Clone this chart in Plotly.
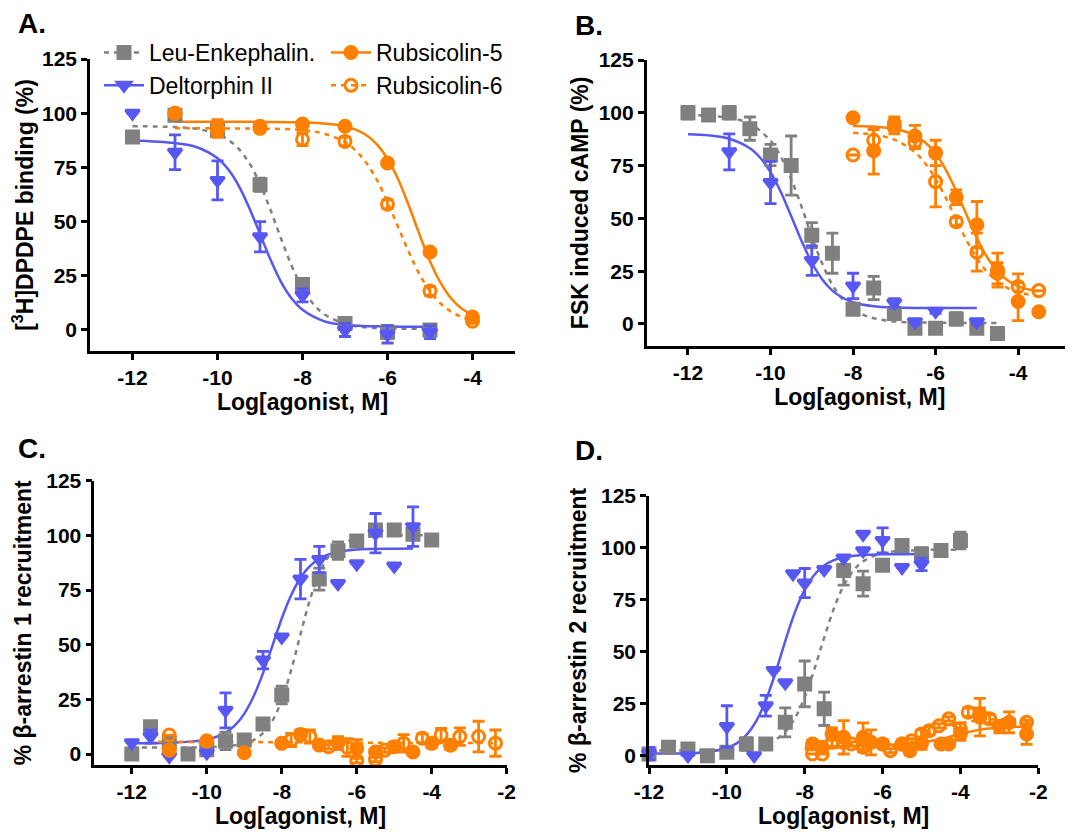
import plotly.graph_objects as go

W, H = 1073, 832          # browser window
OFF = 8                   # default page margin of the browser body
FIG_W, FIG_H = W - OFF, H - OFF
GRAY = "#808080"
BLUE = "#5757F2"
ORANGE = "#FF8000"
FONT = "Liberation Sans, Arial, sans-serif"

# ---------------- Panel A : [3H]DPDPE binding ----------------
A_leu_x = [-12, -11, -10, -9, -8, -7, -6, -5]
A_leu_y = [89, 99, 92, 67, 21, 3, -1, 0]
A_leu_e = [2, 1, 2, 3, 2, 2, 3, 2]
A_del_x = [-12, -11, -10, -9, -8, -7, -6, -5]
A_del_y = [100, 82, 69, 43, 16, 0, -2, -1]
A_del_e = [None, 8, 9, 7, 3, 3, 4, 3]
A_r5_x = [-11, -10, -9, -8, -7, -6, -5, -4]
A_r5_y = [100, 93, 94, 95, 94, 77, 36, 6]
A_r5_e = [1, 4, 1, 1, 1, 1, 1, 1]
A_r6_x = [-11, -10, -9, -8, -7, -6, -5, -4]
A_r6_y = [100, 92, 93, 88, 87, 58, 18, 4]
A_r6_e = [1, 3, 1, 3, 2, 2, 2, 1]

A_fit_leu_x = [-12, -11, -10.5, -10, -9.75, -9.5, -9.25, -9, -8.75, -8.5, -8.25, -8, -7.75, -7.5, -7, -6.5, -6, -5]
A_fit_leu_y = [94.0, 93.6, 92.8, 90.4, 87.8, 83.5, 76.9, 67.4, 55.2, 41.9, 29.4, 19.3, 12.1, 7.4, 2.8, 1.2, 0.7, 0.5]
A_fit_del_x = [-12, -11, -10.5, -10, -9.75, -9.5, -9.25, -9, -8.75, -8.5, -8.25, -8, -7.5, -7, -6, -5]
A_fit_del_y = [87.4, 86.2, 84.4, 79.2, 74.1, 66.5, 56.2, 44.3, 32.3, 22.0, 14.4, 9.3, 4.1, 2.3, 1.6, 1.5]
A_fit_r5_x = [-11, -10, -9, -8, -7.5, -7, -6.75, -6.5, -6.25, -6, -5.75, -5.5, -5.25, -5, -4.75, -4.5, -4.25, -4]
A_fit_r5_y = [96, 96, 96, 95.8, 95.2, 94, 92.4, 89.9, 85.6, 79, 69.5, 57.4, 44.2, 31.7, 21.7, 14.5, 9.8, 7]
A_fit_r6_x = [-11, -10, -9, -8, -7.5, -7, -6.75, -6.5, -6.25, -6, -5.75, -5.5, -5.25, -5, -4.75, -4.5, -4.25, -4]
A_fit_r6_y = [93, 93, 92.9, 92.2, 90.6, 86.7, 82.8, 77.1, 69.2, 59, 47.5, 36, 25.8, 17.9, 12.2, 8.4, 5.9, 4.4]

# ---------------- Panel B : FSK induced cAMP ----------------
B_leu_x = [-12, -11.5, -11, -10.5, -10, -9.5, -9, -8.5, -8, -7.5, -7, -6.5, -6, -5.5, -5, -4.5]
B_leu_y = [100, 99, 100, 92.5, 80, 75, 42, 33.5, 7, 17, 5, -2, -2, 2.4, -2, -4.5]
B_leu_e = [3, 1, 3, 5.5, 5, 14, 6, 9.5, 2, 5.5, 2, 1, 1, 3, 1, 1]
B_del_x = [-11, -10, -9, -8, -7, -6.5, -6, -5]
B_del_y = [81.5, 67, 30, 18, 10, 1, 6, 1]
B_del_e = [8.5, 10, 7, 6, 2, 1, 1, 1]
B_r5_x = [-8, -7.5, -7, -6.5, -6, -5.5, -5, -4.5, -4, -3.5]
B_r5_y = [97.6, 82, 95, 89, 81, 60, 47, 25.5, 10.6, 5.8]
B_r5_e = [None, 11, 3, 5, 6, 3.5, 11, 8, 9, None]
B_r6_x = [-8, -7.5, -7, -6.5, -6, -5.5, -5, -4.5, -4, -3.5]
B_r6_y = [80, 87, 93, 86, 67.4, 48.4, 34, 24, 17.7, 15.8]
B_r6_e = [None, 5, 3, 3, 12, 2, 9, 5, 6, None]

B_fit_leu_x = [-12, -11.5, -11, -10.5, -10, -9.75, -9.5, -9.25, -9, -8.75, -8.5, -8.25, -8, -7.75, -7.5, -7, -6, -5, -4.5]
B_fit_leu_y = [98.9, 98.6, 97.6, 94.8, 86.8, 79.2, 68.6, 55.7, 41.3, 28.7, 18.5, 11.6, 7.0, 4.3, 2.7, 1.2, 0.6, 0.5, 0.5]
B_fit_del_x = [-12, -11.5, -11, -10.5, -10.25, -10, -9.75, -9.5, -9.25, -9, -8.75, -8.5, -8.25, -8, -7.5, -7, -6, -5]
B_fit_del_y = [89.8, 89.3, 87.7, 83.2, 78.7, 71.9, 62.5, 51.1, 39.4, 29.1, 21.2, 15.8, 12.4, 10.3, 8.4, 7.8, 7.55, 7.5]
B_fit_r5_x = [-8, -7.5, -7, -6.5, -6.25, -6, -5.75, -5.5, -5.25, -5, -4.75, -4.5, -4.25, -4, -3.5]
B_fit_r5_y = [93.8, 93.5, 92.4, 89.3, 85.9, 80.7, 73, 63, 51.7, 40.7, 31.6, 24.9, 20.6, 17.8, 15.3]
B_fit_r6_x = [-8, -7.5, -7, -6.5, -6.25, -6, -5.75, -5.5, -5.25, -5, -4.75, -4.5, -4.25, -4, -3.5]
B_fit_r6_y = [90.5, 89.6, 87.3, 81.3, 76, 68.7, 59.6, 49.5, 39.6, 31.1, 24.6, 20, 17, 15.1, 13.1]

# ---------------- Panel C : beta-arrestin 1 ----------------
C_leu_x = [-12, -11.5, -11, -10.5, -10, -9.5, -9, -8.5, -8, -7, -6.5, -6, -5.5, -5, -4.5, -4]
C_leu_y = [0, 12.5, 5, 0, 2, 6, 6.4, 13.8, 27, 80, 93, 97.4, 102.4, 102.4, 100.5, 97.9]
C_leu_e = [1, 1, 2, 1, 2, 4, 1, 1, 4, 5, 4, 1, 1, 1, 2, 1]
C_del_x = [-12, -11.5, -11, -10, -9.5, -8.5, -8, -7.5, -7, -6.5, -6, -5.5, -5, -4.5]
C_del_y = [5.2, 8, -1, 0.6, 20, 43, 53.5, 80, 89, 78, 87, 101, 86, 104]
C_del_e = [None, 3, None, None, 8, 4, None, 9, 6, None, None, 9, None, 9]
C_r5_x = [-11, -10, -9, -8, -7.5, -7, -6.5, -6, -5.5, -5, -4.5, -4, -3.5]
C_r5_y = [1.8, 6, 0.6, 4.9, 9, 4.1, 5, 2.6, 1, 3.4, 1, 4.9, 4]
C_r5_e = [None, None, None, 1, 2, 1, 3, 4, 1, 2, 1, 2, 2]
C_r6_x = [-11, -10, -7.75, -7.25, -6.75, -6.25, -6, -5.5, -5.25, -4.75, -4.25, -3.75, -3.25, -2.75, -2.3]
C_r6_y = [8.7, 6, 6.4, 8, 3.4, 3, -3, -2.5, 1.8, 4.9, 7.2, 8.7, 8, 8, 5]
C_r6_e = [None, None, 3, 3, 1, 4, 1, 1, 1, 4, 2, 3, 4, 7, 6]

C_fit_leu_x = [-12, -11, -10, -9, -8.75, -8.5, -8.25, -8, -7.75, -7.5, -7.25, -7, -6.75, -6.5, -6, -5, -4]
C_fit_leu_y = [3, 3, 3.1, 4.7, 6.4, 9.6, 15.2, 24.7, 38.4, 54.8, 70.5, 82.6, 90.4, 94.9, 98.7, 99.9, 100]
C_fit_del_x = [-12, -11, -10, -9.5, -9.25, -9, -8.75, -8.5, -8.25, -8, -7.75, -7.5, -7.25, -7, -6.75, -6.5, -6, -5, -4.5]
C_fit_del_y = [5, 5.2, 6.6, 9.7, 13.1, 18.4, 26.4, 37, 49.5, 62, 72.6, 80.6, 85.9, 89.3, 91.3, 92.4, 93.5, 93.9, 94]
C_fit_r6_x = [-11.3, -9, -7, -5, -2.3]
C_fit_r6_y = [5.6, 5.5, 5.3, 5.1, 5.0]

# ---------------- Panel D : beta-arrestin 2 ----------------
D_leu_x = [-12, -11.5, -11, -10.5, -10, -9.5, -9, -8.5, -8, -7.5, -7, -6.5, -6, -5.5, -5, -4.5, -4]
D_leu_y = [0.8, 4, 3.2, 0, 1.6, 5.6, 5.6, 16, 34.5, 22.5, 89, 82.7, 91.5, 101, 97, 98.7, 103.5]
D_leu_e = [1, 1, 1, 1, 1, 3, 1, 7, 11, 8, 7, 6, 2, 1, 3, 1, 4]
D_del_x = [-12, -11, -10, -9.3, -9, -8.8, -8.5, -8.3, -8, -7.5, -7, -6.5, -6.5, -6, -5.5, -5]
D_del_y = [1, 0, 14, 0, 24, 41, 35, 87.5, 83, 89.5, 95, 106.5, 98.5, 103.5, 90.5, 92]
D_del_e = [3, None, 10, None, 5, None, None, None, 7, None, None, None, None, 6, None, 3]
D_r5_x = [-7.8, -7.55, -7.3, -7.0, -6.5, -6.3, -6.0, -5.5, -5.3, -5.0, -4.5, -4.3, -4.0, -3.5, -3.0, -2.75, -2.3]
D_r5_y = [5.6, 4, 10.4, 8.8, 8.8, 6.4, 5.6, 5.6, 2.4, 6, 5.6, 5.6, 10.4, 18.5, 14, 16, 10.4]
D_r5_e = [2, 2, 3, 8, 7, 6, 2, 2, 2, 3, 1, 1, 3, 9, 3, 5, 5]
D_r6_x = [-7.8, -7.55, -7.3, -7.0, -6.8, -6.5, -6.0, -5.8, -5.5, -5.25, -5.0, -4.8, -4.55, -4.3, -4.0, -3.8, -3.5, -3.25, -2.3]
D_r6_y = [0.8, 0.8, 6.4, 6.4, 5.6, 4, 5.6, 2.4, 5.6, 7.2, 10.4, 12, 14.4, 17.7, 12.8, 20.9, 20, 17.7, 16]
D_r6_e = [None, None, 2, 2, 1, 1, 1, 1, 1, 1, 2, 2, 1, 1, 3, 2, 3, 2, 1]

D_fit_leu_x = [-12, -11, -10, -9.5, -9, -8.75, -8.5, -8.25, -8, -7.75, -7.5, -7.25, -7, -6.75, -6.5, -6, -5, -4]
D_fit_leu_y = [2.5, 2.5, 2.7, 3.3, 5.2, 7.7, 11.5, 18.1, 28.2, 41.7, 56.8, 70.8, 81.7, 89, 93.4, 97.3, 98.9, 99]
D_fit_del_x = [-12, -11, -10.5, -10, -9.75, -9.5, -9.25, -9, -8.75, -8.5, -8.25, -8, -7.75, -7.5, -7.25, -7, -6.5, -6, -5]
D_fit_del_y = [1, 1.2, 1.8, 3.7, 5.9, 9.9, 16.5, 26.6, 40, 55.1, 69, 79.8, 87, 91.4, 94, 95.4, 96.5, 96.8, 97]
D_fit_r5_x = [-8, -7, -6, -5, -4.5, -4, -3.5, -3, -2.3]
D_fit_r5_y = [4, 4.5, 5, 6.5, 8, 10.5, 12.5, 13.5, 14]
D_fit_r6_x = [-8, -7, -6, -5.5, -5, -4.5, -4, -3.5, -3, -2.3]
D_fit_r6_y = [3, 4, 5, 6.5, 9, 12.5, 15.5, 17, 17.5, 17.5]

# ---------------- labels ----------------
SERIES = ["Leu-Enkephalin.", "Deltorphin II", "Rubsicolin-5", "Rubsicolin-6"]
X_TITLE = "Log[agonist, M]"
Y_TITLES = ["[<sup>3</sup>H]DPDPE binding (%)", "FSK induced cAMP (%)",
            "% β-arrestin 1 recruitment", "% β-arrestin 2 recruitment"]
PANEL_LABELS = ["A.", "B.", "C.", "D."]
Y_TICKS = [0, 25, 50, 75, 100, 125]
X_TICKS_AB = [-12, -10, -8, -6, -4]
X_TICKS_CD = [-12, -10, -8, -6, -4, -2]
X_TICKTEXT_AB = ["-12", "-10", "-8", "-6", "-4"]
X_TICKTEXT_CD = ["-12", "-10", "-8", "-6", "-4", "-2"]

STYLE = {
    "leu": dict(color=GRAY, symbol="square", dash="5px,5px"),
    "del": dict(color=BLUE, symbol="triangle-down", dash="solid"),
    "r5": dict(color=ORANGE, symbol="circle", dash="solid"),
    "r6": dict(color=ORANGE, symbol="circle-open", dash="5px,5px"),
}

fig = go.Figure()


def add_points(ax, key, x, y, e):
    st = STYLE[key]
    fig.add_trace(go.Scatter(
        x=x, y=y, mode="markers", xaxis="x" + ax, yaxis="y" + ax,
        showlegend=False, cliponaxis=False,
        marker=dict(symbol=st["symbol"], color=st["color"], size=12,
                    line=dict(width=3, color=st["color"])),
        error_y=dict(type="data", array=e, visible=True, color=st["color"],
                     thickness=2.8, width=6),
    ))


def add_fit(ax, key, x, y):
    st = STYLE[key]
    fig.add_trace(go.Scatter(
        x=x, y=y, mode="lines", xaxis="x" + ax, yaxis="y" + ax,
        showlegend=False, hoverinfo="skip",
        line=dict(color=st["color"], width=2.5, dash=st["dash"], shape="spline"),
    ))


panels = [
    ("", [("leu", A_fit_leu_x, A_fit_leu_y), ("del", A_fit_del_x, A_fit_del_y),
          ("r5", A_fit_r5_x, A_fit_r5_y), ("r6", A_fit_r6_x, A_fit_r6_y)],
     [("leu", A_leu_x, A_leu_y, A_leu_e), ("del", A_del_x, A_del_y, A_del_e),
      ("r6", A_r6_x, A_r6_y, A_r6_e), ("r5", A_r5_x, A_r5_y, A_r5_e)]),
    ("2", [("leu", B_fit_leu_x, B_fit_leu_y), ("del", B_fit_del_x, B_fit_del_y),
           ("r5", B_fit_r5_x, B_fit_r5_y), ("r6", B_fit_r6_x, B_fit_r6_y)],
     [("leu", B_leu_x, B_leu_y, B_leu_e), ("del", B_del_x, B_del_y, B_del_e),
      ("r6", B_r6_x, B_r6_y, B_r6_e), ("r5", B_r5_x, B_r5_y, B_r5_e)]),
    ("3", [("leu", C_fit_leu_x, C_fit_leu_y), ("del", C_fit_del_x, C_fit_del_y),
           ("r6", C_fit_r6_x, C_fit_r6_y)],
     [("leu", C_leu_x, C_leu_y, C_leu_e), ("del", C_del_x, C_del_y, C_del_e),
      ("r5", C_r5_x, C_r5_y, C_r5_e), ("r6", C_r6_x, C_r6_y, C_r6_e)]),
    ("4", [("leu", D_fit_leu_x, D_fit_leu_y), ("del", D_fit_del_x, D_fit_del_y),
           ("r5", D_fit_r5_x, D_fit_r5_y), ("r6", D_fit_r6_x, D_fit_r6_y)],
     [("leu", D_leu_x, D_leu_y, D_leu_e), ("del", D_del_x, D_del_y, D_del_e),
      ("r5", D_r5_x, D_r5_y, D_r5_e), ("r6", D_r6_x, D_r6_y, D_r6_e)]),
]

for ax, fits, pts in panels:
    for key, x, y in fits:
        add_fit(ax, key, x, y)
    for key, x, y, e in pts:
        add_points(ax, key, x, y, e)

# legend-only entries (line + marker samples)
for i, key in enumerate(["leu", "del", "r5", "r6"]):
    st = STYLE[key]
    fig.add_trace(go.Scatter(
        x=[None], y=[None], mode="lines+markers", name=SERIES[i],
        legend="legend" if i < 2 else "legend2",
        line=dict(color=st["color"], width=2.5, dash=st["dash"]),
        marker=dict(symbol=st["symbol"], color=st["color"], size=12,
                    line=dict(width=3, color=st["color"])),
    ))


# window pixel -> paper fraction (the page body keeps an 8 px margin)
def px_x(p):
    return (p - OFF) / FIG_W


def px_y(p):
    return 1 - (p - OFF) / FIG_H


tickfont = dict(family=FONT, size=21, color="black", weight="bold")
titlefont = dict(family=FONT, size=23, color="black", weight="bold")

common = dict(showline=True, linecolor="black", linewidth=2.6, ticks="outside",
              ticklen=6, tickwidth=2.6, tickcolor="black", showgrid=False,
              zeroline=False, tickfont=tickfont, automargin=False)

# (x-left, x-right, y-top, y-bottom) in window pixels, ranges, y-title standoff
geom = [
    ((90, 515, 59, 351), [-13, -3], [-9.7, 125], X_TICKS_AB, X_TICKTEXT_AB, 3),
    ((646.7, 1073, 60, 345.7), [-13, -2.67], [-10.3, 125], X_TICKS_AB, X_TICKTEXT_AB, 4),
    ((94.3, 506.7, 480.7, 765), [-13, -2], [-5, 125], X_TICKS_CD, X_TICKTEXT_CD, 9),
    ((649, 1038.3, 495.7, 765), [-12, -2], [-4.5, 125], X_TICKS_CD, X_TICKTEXT_CD, 8),
]

legfont = dict(family=FONT, size=23, color="black")
layout = dict(
    width=FIG_W, height=FIG_H, margin=dict(l=0, r=0, t=0, b=0, autoexpand=False),
    paper_bgcolor="white", plot_bgcolor="white",
    showlegend=True,
    legend=dict(x=px_x(99), y=px_y(31), xanchor="left", yanchor="top",
                font=legfont, bgcolor="rgba(0,0,0,0)", tracegroupgap=0, itemwidth=40),
    legend2=dict(x=px_x(326), y=px_y(31), xanchor="left", yanchor="top",
                 font=legfont, bgcolor="rgba(0,0,0,0)", tracegroupgap=0, itemwidth=40),
)

for i, ((xl, xr, yt, yb), xr_, yr_, xt, xtt, sto) in enumerate(geom):
    s = "" if i == 0 else str(i + 1)
    layout["xaxis" + s] = dict(common, domain=[px_x(xl), px_x(xr)], range=xr_,
                               tickvals=xt, ticktext=xtt, anchor="y" + s,
                               title=dict(text=X_TITLE, font=titlefont, standoff=1))
    layout["yaxis" + s] = dict(common, domain=[px_y(yb), px_y(yt)], range=yr_,
                               tickvals=Y_TICKS, anchor="x" + s,
                               title=dict(text=Y_TITLES[i], font=titlefont, standoff=sto))

fig.update_layout(**layout)

label_pos = [(16, 23), (573, 25), (16, 448), (573, 450)]
for lab, (lx, ly) in zip(PANEL_LABELS, label_pos):
    fig.add_annotation(text=lab, x=px_x(lx), y=px_y(ly), xref="paper", yref="paper",
                       xanchor="left", yanchor="middle", showarrow=False,
                       font=dict(family=FONT, size=28, color="black", weight="bold"))

fig.write_html("out.html")
